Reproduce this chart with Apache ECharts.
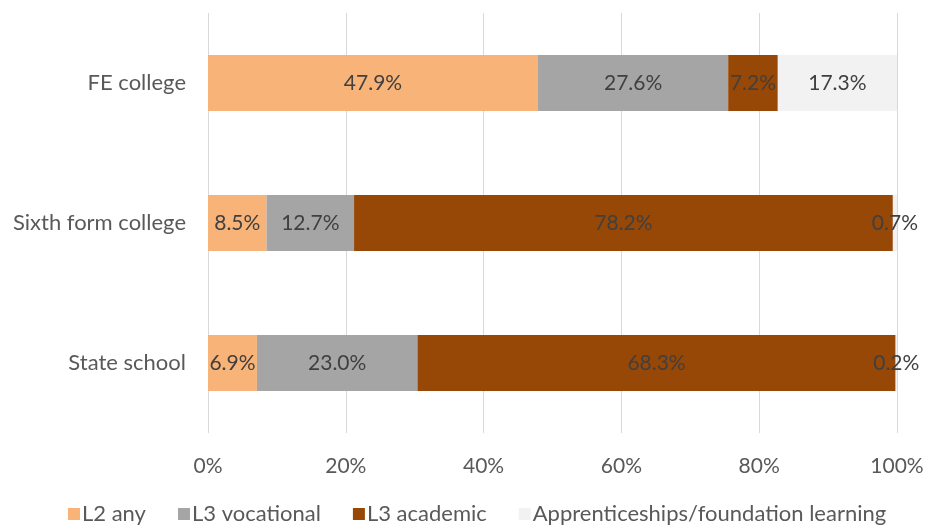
<!DOCTYPE html>
<html><head><meta charset="utf-8">
<script src="https://cdn.jsdelivr.net/npm/echarts@6/dist/echarts.min.js"></script>
<style>html,body{margin:0;padding:0;background:#fff}#c{width:928px;height:531px}</style>
</head><body><div id="c"></div>
<script>
const categories = ['FE college', 'Sixth form college', 'State school'];
const seriesNames = ['L2 any', 'L3 vocational', 'L3 academic', 'Apprenticeships/foundation learning'];
// bar lengths (%), per series, in category order
const l2Any = [47.9, 8.5, 7.1];
const l3Vocational = [27.6, 12.7, 23.3];
const l3Academic = [7.2, 78.2, 69.4];
const apprenticeships = [17.3, 0.7, 0.2];
// data label texts as printed
const l2AnyLabels = ['47.9%', '8.5%', '6.9%'];
const l3VocationalLabels = ['27.6%', '12.7%', '23.0%'];
const l3AcademicLabels = ['7.2%', '78.2%', '68.3%'];
const apprenticeshipsLabels = ['17.3%', '0.7%', '0.2%'];
const xTicks = [0, 20, 40, 60, 80, 100];

const colors = ['#F8B378', '#A5A5A5', '#974706', '#F2F2F2'];
const values = [l2Any, l3Vocational, l3Academic, apprenticeships];
const labels = [l2AnyLabels, l3VocationalLabels, l3AcademicLabels, apprenticeshipsLabels];
const FONT = 'Lato';

const chart = echarts.init(document.getElementById('c'));
chart.setOption({
  animation: false,
  textStyle: { fontFamily: FONT },
  grid: { left: 208, right: 31, top: 13, bottom: 98, containLabel: false },
  legend: {
    bottom: 1, left: 63, itemWidth: 12, itemHeight: 12, itemGap: 32,
    icon: 'rect',
    textStyle: { fontFamily: FONT, fontSize: 22, color: '#595959', padding: [0, 0, 0, -3] },
    data: seriesNames
  },
  xAxis: {
    type: 'value', min: 0, max: 100, interval: 20,
    axisLabel: { formatter: v => v + '%', fontSize: 21, color: '#595959', margin: 23, fontFamily: FONT },
    splitLine: { lineStyle: { color: '#D9D9D9', width: 1 } },
    axisLine: { show: false }, axisTick: { show: false }
  },
  yAxis: {
    type: 'category', data: categories, inverse: true,
    axisLabel: { fontSize: 22, color: '#595959', margin: 22, fontFamily: FONT },
    axisLine: { show: false }, axisTick: { show: false }
  },
  series: seriesNames.map((n, i) => ({
    name: n, type: 'bar', stack: 'total', barWidth: 56,
    itemStyle: { color: colors[i] },
    label: {
      show: true, position: 'inside', fontSize: 21, color: '#404040', fontFamily: FONT,
      formatter: p => labels[i][p.dataIndex]
    },
    labelLayout: { hideOverlap: false },
    data: values[i]
  }))
});
</script></body></html>
